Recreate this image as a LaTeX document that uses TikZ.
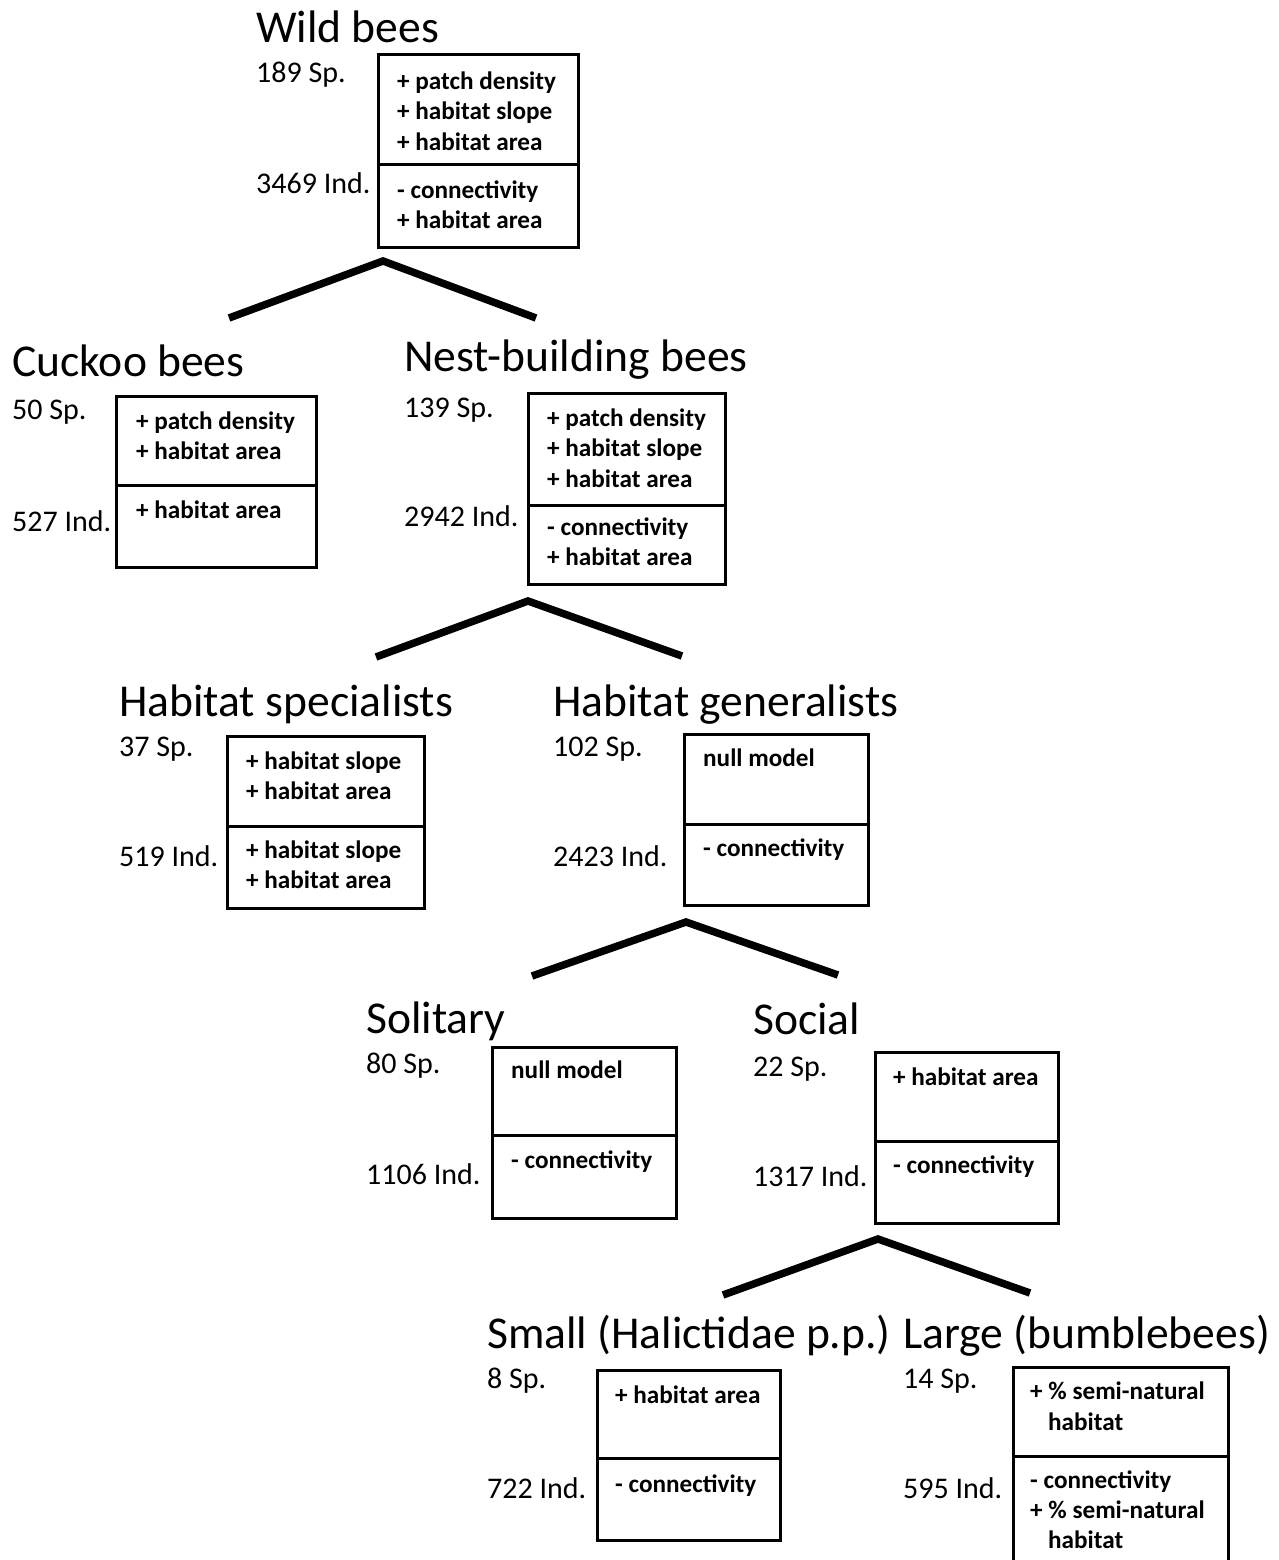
\documentclass[tikz,border=0pt]{standalone}
\usepackage{fontspec}
\setmainfont{Carlito}
\begin{document}
\begin{tikzpicture}[x=1pt,y=-1pt,
  title/.style={anchor=base west,inner sep=0pt,font=\fontsize{45.6}{54}\selectfont},
  lab/.style={anchor=base west,inner sep=0pt,font=\fontsize{30}{36}\selectfont},
  btxt/.style={anchor=base west,inner sep=0pt,font=\fontsize{25.2}{30}\selectfont\bfseries},
  boxline/.style={draw=black,line width=3pt},
  conn/.style={draw=black,line width=7.5pt}]
\clip (0,0) rectangle (1278,1560);
\fill[white] (0,0) rectangle (1278,1560);

% ---------- Wild bees ----------
\node[title] (t1) at (256,43) {Wild bees};
\node[lab] (s1) at (256,83) {189 Sp.};
\node[lab] (i1) at (256,193) {3469 Ind.};
\draw[boxline] (378,55) rectangle (578,247);
\draw[boxline] (378,164) -- (578,164);
\node[btxt] (b1a) at (397,90) {+ patch density};
\node[btxt] (b1b) at (397,120) {+ habitat slope};
\node[btxt] (b1c) at (397,150) {+ habitat area};
\node[btxt] (b1d) at (397,198) {- connectivity};
\node[btxt] (b1e) at (397,228) {+ habitat area};

\coordinate (c1l) at (229,318);
\coordinate (c1t) at (383,261);
\coordinate (c1r) at (536,318);
\draw[conn] (c1l) -- (c1t) -- (c1r);

% ---------- Cuckoo bees ----------
\node[title] (t2) at (12,376) {Cuckoo bees};
\node[lab] (s2) at (12,419) {50 Sp.};
\node[lab] (i2) at (12,531) {527 Ind.};
\draw[boxline] (116,396) rectangle (316,567);
\draw[boxline] (116,485) -- (316,485);
\node[btxt] (b2a) at (136,429) {+ patch density};
\node[btxt] (b2b) at (136,459) {+ habitat area};
\node[btxt] (b2c) at (136,518) {+ habitat area};

% ---------- Nest-building bees ----------
\node[title] (t3) at (404,371) {Nest-building bees};
\node[lab] (s3) at (404,417) {139 Sp.};
\node[lab] (i3) at (404,526) {2942 Ind.};
\draw[boxline] (528,393) rectangle (725,584);
\draw[boxline] (528,505) -- (725,505);
\node[btxt] (b3a) at (547,426) {+ patch density};
\node[btxt] (b3b) at (547,456) {+ habitat slope};
\node[btxt] (b3c) at (547,487) {+ habitat area};
\node[btxt] (b3d) at (547,535) {- connectivity};
\node[btxt] (b3e) at (547,565) {+ habitat area};

\coordinate (c2l) at (376,657);
\coordinate (c2t) at (528,601);
\coordinate (c2r) at (682,656);
\draw[conn] (c2l) -- (c2t) -- (c2r);

% ---------- Habitat specialists ----------
\node[title] (t4) at (119,716) {Habitat specialists};
\node[lab] (s4) at (119,756) {37 Sp.};
\node[lab] (i4) at (119,866) {519 Ind.};
\draw[boxline] (227,736) rectangle (424,908);
\draw[boxline] (227,826) -- (424,826);
\node[btxt] (b4a) at (246,769) {+ habitat slope};
\node[btxt] (b4b) at (246,799) {+ habitat area};
\node[btxt] (b4c) at (246,858) {+ habitat slope};
\node[btxt] (b4d) at (246,888) {+ habitat area};

% ---------- Habitat generalists ----------
\node[title] (t5) at (553,716) {Habitat generalists};
\node[lab] (s5) at (553,756) {102 Sp.};
\node[lab] (i5) at (553,866) {2423 Ind.};
\draw[boxline] (684,734) rectangle (868,905);
\draw[boxline] (684,824) -- (868,824);
\node[btxt] (b5a) at (703,766) {null model};
\node[btxt] (b5b) at (703,856) {- connectivity};

\coordinate (c3l) at (532,976);
\coordinate (c3t) at (686,922);
\coordinate (c3r) at (838,975);
\draw[conn] (c3l) -- (c3t) -- (c3r);

% ---------- Solitary ----------
\node[title] (t6) at (366,1033) {Solitary};
\node[lab] (s6) at (366,1073) {80 Sp.};
\node[lab] (i6) at (366,1184) {1106 Ind.};
\draw[boxline] (492,1047) rectangle (676,1218);
\draw[boxline] (492,1135) -- (676,1135);
\node[btxt] (b6a) at (511,1078) {null model};
\node[btxt] (b6b) at (511,1168) {- connectivity};

% ---------- Social ----------
\node[title] (t7) at (753,1034) {Social};
\node[lab] (s7) at (753,1076) {22 Sp.};
\node[lab] (i7) at (753,1186) {1317 Ind.};
\draw[boxline] (875,1052) rectangle (1058,1223);
\draw[boxline] (875,1141) -- (1058,1141);
\node[btxt] (b7a) at (893,1085) {+ habitat area};
\node[btxt] (b7b) at (893,1173) {- connectivity};

\coordinate (c4l) at (723,1295);
\coordinate (c4t) at (878,1239);
\coordinate (c4r) at (1030,1293);
\draw[conn] (c4l) -- (c4t) -- (c4r);

% ---------- Small ----------
\node[title] (t8) at (487,1348) {Small (Halictidae p.p.)};
\node[lab] (s8) at (487,1388) {8 Sp.};
\node[lab] (i8) at (487,1498) {722 Ind.};
\draw[boxline] (597,1370) rectangle (780,1540);
\draw[boxline] (597,1458) -- (780,1458);
\node[btxt] (b8a) at (615,1403) {+ habitat area};
\node[btxt] (b8b) at (615,1492) {- connectivity};

% ---------- Large ----------
\node[title] (t9) at (903,1348) {Large (bumblebees)};
\node[lab] (s9) at (903,1388) {14 Sp.};
\node[lab] (i9) at (903,1498) {595 Ind.};
\draw[boxline] (1013,1367) rectangle (1228,1580);
\draw[boxline] (1013,1456) -- (1228,1456);
\node[btxt] (b9a) at (1030,1399) {+ \% semi-natural};
\node[btxt] (b9b) at (1048,1430) {habitat};
\node[btxt] (b9c) at (1030,1488) {- connectivity};
\node[btxt] (b9d) at (1030,1518) {+ \% semi-natural};
\node[btxt] (b9e) at (1048,1548) {habitat};
\end{tikzpicture}
\end{document}
